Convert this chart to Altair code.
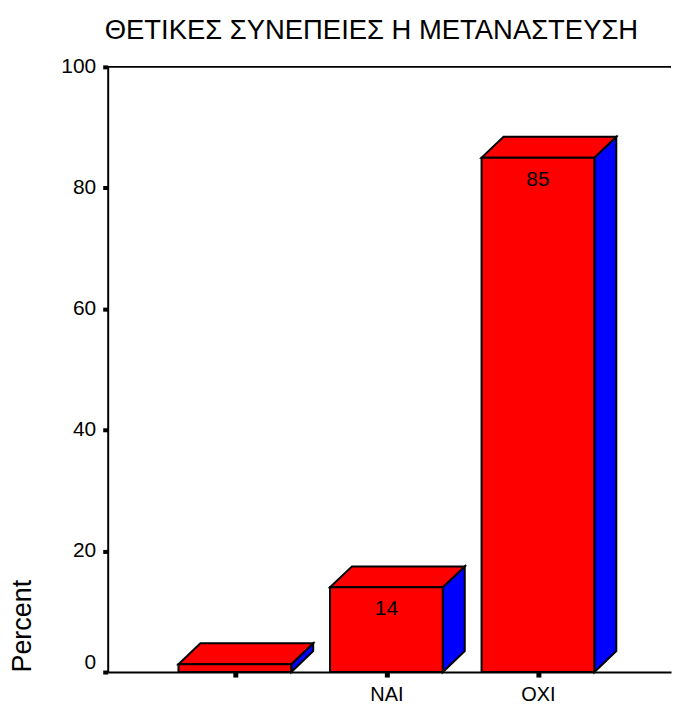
import altair as alt
import pandas as pd

title_text = "ΘΕΤΙΚΕΣ ΣΥΝΕΠΕΙΕΣ Η ΜΕΤΑΝΑΣΤΕΥΣΗ"
categories = ["", "ΝΑΙ", "ΟΧΙ"]
percent = [1.3, 14, 85]
bar_labels = ["", "14", "85"]
y_ticks = [0, 20, 40, 60, 80, 100]

FONT = "Liberation Sans"
HALF = 0.372   # half bar width in category units
DX = 0.145     # depth, category units
DY = 3.46      # depth, percent units
W, H = 565, 607
x_scale = alt.Scale(domain=[0.161, 3.878], nice=False, zero=False)
y_scale = alt.Scale(domain=[0, 100], nice=False)

front, side, top = [], [], []
for i, (c, v, lab) in enumerate(zip(categories, percent, bar_labels)):
    pos = i + 1
    x0, x1 = pos - HALF, pos + HALF
    front.append(dict(bar=i, x0=x0, x1=x1, v=v, pos=pos, lab=lab))
    side += [dict(bar=i, x=x1, y=v, y2=0), dict(bar=i, x=x1 + DX, y=v + DY, y2=DY)]
    top += [dict(bar=i, x=x0, y=v, y2=v),
            dict(bar=i, x=x0 + DX, y=v + DY, y2=v),
            dict(bar=i, x=x1, y=v + DY, y2=v),
            dict(bar=i, x=x1 + DX, y=v + DY, y2=v + DY)]
front_df = pd.DataFrame(front)
side_df = pd.DataFrame(side)
top_df = pd.DataFrame(top)

cat_expr = "[" + ",".join(f"'{c}'" for c in categories) + "][datum.value-1]"

x_axis = alt.Axis(values=[1, 2, 3], labelExpr=cat_expr, title=None, grid=False,
                  labelFont=FONT, labelFontSize=20, labelColor="black", labelPadding=8,
                  tickSize=5, tickWidth=5, tickColor="black", domainColor="black",
                  domainWidth=2, labelFlush=False, labelOverlap=False)
y_axis = alt.Axis(values=y_ticks, title="Percent", grid=False, titleFont=FONT, titleFontSize=27,
                  titleFontWeight="normal", titleColor="black", titleAnchor="start",
                  titlePadding=24, labelFont=FONT, labelFontSize=21, labelColor="black",
                  labelPadding=7, tickSize=5, tickWidth=4, tickColor="black",
                  domainColor="black", domainWidth=2,
                  labelOffset={"condition": {"test": "datum.value==0", "value": -10}, "value": 0})

base_x = alt.X("x:Q", scale=x_scale, axis=x_axis)
base_y = alt.Y("y:Q", scale=y_scale, axis=y_axis, stack=None)

side_layer = alt.Chart(side_df).mark_area(color="#0000ff", stroke="black", strokeWidth=2, orient="vertical", interpolate="linear").encode(
    x=base_x, y=base_y, y2="y2:Q", detail="bar:N")
top_layer = alt.Chart(top_df).mark_area(color="#ff0000", stroke="black", strokeWidth=2, orient="vertical", interpolate="linear").encode(
    x=alt.X("x:Q", scale=x_scale), y=alt.Y("y:Q", scale=y_scale, stack=None), y2="y2:Q", detail="bar:N")
front_layer = alt.Chart(front_df).mark_rect(color="#ff0000", stroke="black", strokeWidth=2).encode(
    x=alt.X("x0:Q", scale=x_scale), x2="x1:Q",
    y=alt.Y("v:Q", scale=y_scale), y2=alt.datum(0))
text_layer = alt.Chart(front_df).mark_text(font=FONT, fontSize=21, color="black", dy=22).encode(
    x=alt.X("pos:Q", scale=x_scale), y=alt.Y("v:Q", scale=y_scale), text="lab:N")
top_rule = alt.Chart(pd.DataFrame({"v": [100]})).mark_rule(color="black", strokeWidth=2).encode(
    y=alt.Y("v:Q", scale=y_scale), x=alt.value(0), x2=alt.value(W))

chart = alt.layer(top_rule, side_layer, top_layer, front_layer, text_layer).properties(
    width=W, height=H,
    title=alt.TitleParams(title_text, font=FONT, fontSize=27.5, fontWeight="normal", color="black",
                          anchor="start", frame="group", dx=-3, offset=11),
    padding={"left": 0, "top": 8, "right": 0, "bottom": 0},
).configure_view(stroke=None)

chart.save("out.html", embed_options={"renderer": "svg", "actions": False})
